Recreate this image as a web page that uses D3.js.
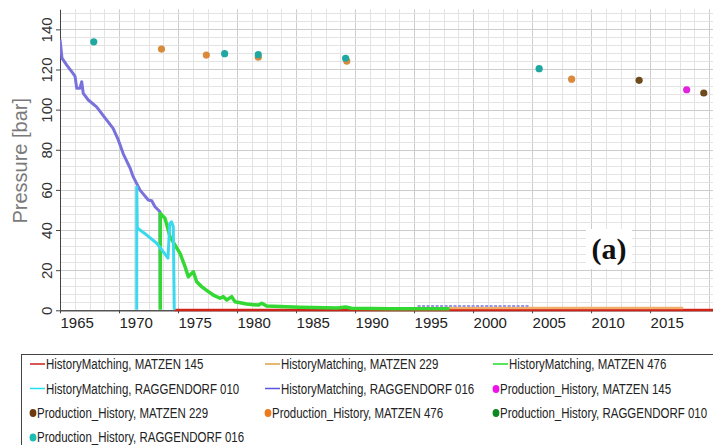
<!DOCTYPE html>
<html>
<head>
<meta charset="utf-8" />
<title>Pressure history</title>
<script src="https://d3js.org/d3.v7.min.js"></script>
<style>
  body { margin: 0; background: #fff; font-family: "Liberation Sans", Arial, sans-serif; }
  .grid line { stroke: #e3e3e3; stroke-width: 1; }
  .grid line.major { stroke: #cdcdcd; }
  .axis text { font-family: "Liberation Sans", Arial, sans-serif; fill: #222; }
  .axis path, .axis line { stroke: #444; }
  .series { fill: none; stroke-linejoin: round; stroke-linecap: butt; }
  .legend text { font-size: 14px; fill: #222; }
</style>
</head>
<body>
<script>
// axis ticks
const tickYears = [1965, 1970, 1975, 1980, 1985, 1990, 1995, 2000, 2005, 2010, 2015]
const pressureTicks = [0, 20, 40, 60, 80, 100, 120, 140]

// HistoryMatching lines: [year, pressure in bar]
const hmMatzen145 = [[1974.7, 0.1], [2020.4, 0.1]]
const hmMatzen229 = [[1997.6, 1.1], [2017.8, 1.1]]
const hmMatzen476 = [
  [1973.5, 0.3], [1973.5, 48.3], [1973.9, 45.8], [1974.32, 36.7], [1974.75, 32.5],
  [1975.17, 28.4], [1975.6, 21.7], [1975.87, 16.7], [1976.16, 18.4], [1976.3, 19.2],
  [1976.58, 14.2], [1977.0, 11.8], [1977.57, 9.3], [1977.99, 7.6], [1978.56, 6.0],
  [1978.84, 6.8], [1979.13, 5.1], [1979.55, 6.8], [1979.83, 4.3], [1980.82, 3.1],
  [1981.8, 2.6], [1982.1, 3.5], [1982.5, 2.1], [1985.3, 1.5], [1988.5, 1.1],
  [1989.2, 1.6], [1989.7, 1.0], [1993.0, 0.8], [1998.0, 0.8]
]
const hmRagg010 = [
  [1971.5, 0.3], [1971.5, 61.5], [1971.55, 41.0], [1972.35, 37.5], [1973.2, 33.4],
  [1974.15, 26.0], [1974.3, 43.2], [1974.45, 44.1], [1974.6, 41.7], [1974.68, 0.3]
]
const hmRagg016 = [
  [1965.0, 135.0], [1965.17, 125.7], [1965.57, 122.2], [1965.99, 118.9], [1966.27, 116.7],
  [1966.42, 110.6], [1966.69, 110.6], [1966.84, 113.9], [1966.97, 108.1], [1967.4, 104.8],
  [1968.1, 101.4], [1968.96, 94.8], [1969.5, 90.7], [1969.94, 84.9], [1970.36, 78.0],
  [1970.93, 71.0], [1971.2, 66.6], [1971.78, 59.9], [1972.48, 55.0], [1972.77, 54.6],
  [1973.05, 51.6], [1973.47, 49.1], [1973.5, 0.8]
]
const hmRagg016Late = [[1995.3, 2.2], [2004.7, 2.2]]

// Production_History points
const phMatzen145 = [[2018.1, 109.9]]
const phMatzen229 = [[2014.07, 114.6], [2019.55, 108.3]]
const phMatzen476 = [[1973.6, 130.2], [1977.4, 127.2], [1981.8, 126.1], [1989.3, 124.2], [2008.35, 115.2]]
const phRagg010 = []
const phRagg016 = [[1967.86, 133.8], [1978.95, 127.9], [1981.8, 127.4], [1989.2, 125.6], [2005.6, 120.4]]

const legendItems = [
  { label: 'HistoryMatching, MATZEN 145', kind: 'line', color: '#cc1f1a' },
  { label: 'HistoryMatching, MATZEN 229', kind: 'line', color: '#dba040' },
  { label: 'HistoryMatching, MATZEN 476', kind: 'line', color: '#22dd22' },
  { label: 'HistoryMatching, RAGGENDORF 010', kind: 'line', color: '#22dff0' },
  { label: 'HistoryMatching, RAGGENDORF 016', kind: 'line', color: '#5a55de' },
  { label: 'Production_History, MATZEN 145', kind: 'dot', color: '#f010e8' },
  { label: 'Production_History, MATZEN 229', kind: 'dot', color: '#6b3a10' },
  { label: 'Production_History, MATZEN 476', kind: 'dot', color: '#ee7a1e' },
  { label: 'Production_History, RAGGENDORF 010', kind: 'dot', color: '#0a8a1e' },
  { label: 'Production_History, RAGGENDORF 016', kind: 'dot', color: '#1bbdb5' }
]

let W = 713, H = 445
let plot = { left: 60, right: 713, top: 9.3, bottom: 310.3 }

let x = d3.scaleLinear().domain([1965, 2020.33]).range([plot.left, plot.right])
let y = d3.scaleLinear().domain([0, 150]).range([plot.bottom, plot.top])

let svg = d3.select('body').append('svg')
  .attr('width', W).attr('height', H)
  .style('display', 'block')

svg.append('defs').append('clipPath').attr('id', 'clip')
  .append('rect')
  .attr('x', plot.left).attr('y', plot.top - 2)
  .attr('width', plot.right - plot.left).attr('height', plot.bottom - plot.top + 4)

// grid
let grid = svg.append('g').classed('grid', true)
grid.selectAll('line.v')
  .data(d3.range(1965 + 1.25, 2021, 1.25))
  .enter().append('line')
  .attr('class', d => (d % 5 === 0 ? 'major' : ''))
  .attr('x1', d => Math.round(x(d)) + 0.5).attr('x2', d => Math.round(x(d)) + 0.5)
  .attr('y1', plot.top).attr('y2', plot.bottom)
grid.selectAll('line.h')
  .data(d3.range(4, 150, 4))
  .enter().append('line')
  .attr('class', d => (d % 20 === 0 ? 'major' : ''))
  .attr('x1', plot.left).attr('x2', plot.right)
  .attr('y1', d => Math.round(y(d)) + 0.5).attr('y2', d => Math.round(y(d)) + 0.5)

// y axis
let yAxis = svg.append('g').classed('axis', true)
  .attr('transform', `translate(${plot.left},0)`)
  .call(d3.axisLeft(y).tickValues(pressureTicks).tickSize(4).tickSizeOuter(0))
yAxis.selectAll('text')
  .attr('transform', 'rotate(-90)')
  .attr('x', 0).attr('y', -8).attr('dy', 0)
  .attr('text-anchor', 'middle')
  .style('font-size', '15px').style('fill', '#333')

// x axis
let xAxis = svg.append('g').classed('axis', true)
  .attr('transform', `translate(0,${plot.bottom})`)
  .call(d3.axisBottom(x).tickValues(tickYears).tickFormat(d3.format('d')).tickSize(3).tickSizeOuter(0))
xAxis.select('.domain').style('stroke', '#555').style('stroke-width', 1.5)
xAxis.selectAll('text')
  .attr('text-anchor', 'start')
  .attr('y', 18).attr('dy', 0)
  .style('font-size', '15px')

// axis title
svg.append('text')
  .attr('transform', `translate(27,${(plot.top + plot.bottom) / 2 + 1}) rotate(-90)`)
  .attr('text-anchor', 'middle')
  .style('font-size', '20px').style('fill', '#7a7a7a')
  .text('Pressure [bar]')

// lines
let line = d3.line().x(d => x(d[0])).y(d => y(d[1]))
let lines = svg.append('g').attr('clip-path', 'url(#clip)')

let lineSeries = [
  { data: hmMatzen145, color: '#d0241a', width: 2.5 },
  { data: hmMatzen229, color: '#f2ad6a', width: 2.5 },
  { data: hmRagg016Late, color: '#9b98e2', width: 2, dash: '3,1.5' },
  { data: hmRagg016, color: '#7a72dc', width: 3 },
  { data: hmMatzen476, color: '#33d833', width: 3.5 },
  { data: hmRagg010, color: '#3cd9ee', width: 3 }
]
lines.selectAll('path')
  .data(lineSeries)
  .enter().append('path')
  .classed('series', true)
  .attr('d', d => line(d.data))
  .attr('stroke', d => d.color)
  .attr('stroke-width', d => d.width)
  .attr('stroke-dasharray', d => d.dash || null)

// points
let pointSeries = [
  { data: phRagg010, color: '#0a8a1e' },
  { data: phMatzen476, color: '#d98a3c' },
  { data: phRagg016, color: '#1fa8a2' },
  { data: phMatzen229, color: '#6e4a1c' },
  { data: phMatzen145, color: '#e322e0' }
]
let points = svg.append('g').attr('clip-path', 'url(#clip)')
pointSeries.forEach(function (s) {
  points.append('g').selectAll('circle')
    .data(s.data)
    .enter().append('circle')
    .attr('cx', d => x(d[0]))
    .attr('cy', d => y(d[1]))
    .attr('r', 3.6)
    .attr('fill', s.color)
})

// panel label
svg.append('rect')
  .attr('x', 586).attr('y', 229).attr('width', 46).attr('height', 40)
  .attr('fill', '#fff')
svg.append('text')
  .attr('x', 609).attr('y', 259)
  .attr('text-anchor', 'middle')
  .style('font-family', '"Liberation Serif", "Times New Roman", serif')
  .style('font-weight', 'bold').style('font-size', '30px').style('fill', '#111')
  .text('(a)')

// legend
let legend = svg.append('g').classed('legend', true)
legend.append('rect')
  .attr('x', 21.5).attr('y', 354.5).attr('width', 760).attr('height', 200)
  .attr('fill', 'none').attr('stroke', '#444')

let colX = [30, 265, 493]
let rowY = [369, 393.5, 417.5, 442]

let item = legend.selectAll('g.item')
  .data(legendItems)
  .enter().append('g')
  .attr('transform', (d, i) => `translate(${colX[i % 3]},${rowY[Math.floor(i / 3)]})`)

item.filter(d => d.kind === 'line').append('line')
  .attr('x1', 0).attr('x2', 15).attr('y1', -5).attr('y2', -5)
  .attr('stroke', d => d.color).attr('stroke-width', 1.5)
item.filter(d => d.kind === 'dot').append('ellipse')
  .attr('cx', 3).attr('cy', -4.5).attr('rx', 3.4).attr('ry', 4)
  .attr('fill', d => d.color)
item.append('text')
  .attr('transform', d => `translate(${d.kind === 'line' ? 16 : 7},0) scale(0.82,1)`)
  .text(d => d.label)
</script>
</body>
</html>
